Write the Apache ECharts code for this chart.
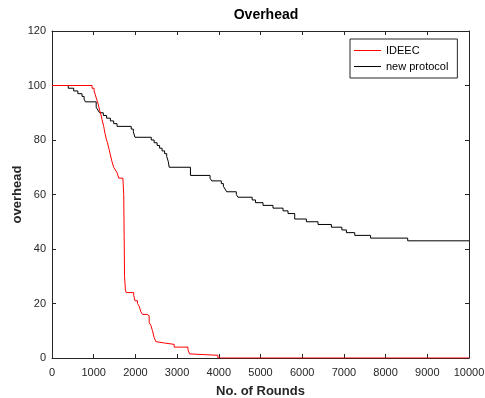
<!DOCTYPE html>
<html>
<head>
	<meta charset="UTF-8">
	<title>Overhead</title>
	<style>
		html, body { margin: 0; padding: 0; background: #fff; }
		#container { width: 485px; height: 398px; }
	</style>
</head>
<body>
	<div id="container"></div>
	<script src="https://cdn.jsdelivr.net/npm/echarts@6/dist/echarts.min.js"></script>
	<script>
		// IDEEC
		var ideecRounds = [0, 960, 1010, 1040, 1070, 1090, 1110, 1140, 1170, 1200, 1240, 1270, 1300, 1330, 1370, 1400, 1440, 1480, 1520, 1560, 1600, 1700, 1720, 1730, 1740, 1760, 1780, 1960, 1990, 2050, 2090, 2130, 2170, 2280, 2330, 2370, 2410, 2450, 2490, 2520, 2700, 2930, 3260, 3300, 3340, 3980, 10000];
		var ideecValues = [100, 99, 98, 96.5, 95, 94, 93, 91, 89.5, 87.5, 85, 82.5, 80.5, 79, 76.5, 74.5, 72, 70, 69, 68, 66, 65.5, 60, 45, 30, 25, 24, 23, 21, 20, 19, 17, 16, 15.5, 13, 12, 10, 7.5, 6, 5.5, 5, 4, 3, 1.5, 1, 0, 0];

		// new protocol
		var newRounds = [0, 390, 520, 620, 720, 770, 800, 1060, 1100, 1140, 1230, 1310, 1400, 1480, 1560, 1900, 1950, 1990, 2380, 2450, 2520, 2580, 2640, 2700, 2750, 2790, 2810, 3320, 3790, 3830, 4060, 4110, 4150, 4190, 4420, 4460, 4800, 4880, 5060, 5300, 5540, 5660, 5820, 6100, 6380, 6700, 6950, 7060, 7260, 7640, 8530, 10000];
		var newValues = [100, 99, 98, 97, 96, 95, 94, 92, 91, 90, 89, 88, 87, 86, 85, 84, 83, 81, 80, 79, 78, 77, 76, 75, 74, 72, 70, 67, 66, 65, 64, 63, 62, 61, 60, 59, 58, 57, 56, 55, 54, 53, 51, 50, 49, 48, 47, 46, 45, 44, 43, 43];

		function pairs(xs, ys) {
			var out = [];
			for (var i = 0; i < xs.length; i++) out.push([xs[i], ys[i]]);
			return out;
		}

		var axisColor = '#262626';
		var font = 'Liberation Sans, Arial, Helvetica, sans-serif';

		var myChart = echarts.init(document.getElementById('container'));

		// MATLAB style box: all four sides, ticks pointing in
		var boxAxis = {
			axisLine: { show: true, onZero: false, lineStyle: { color: axisColor, width: 1 } },
			axisTick: { show: true, inside: true, length: 4, lineStyle: { color: axisColor } },
			splitLine: { show: false }
		};

		var option = {
			animation: false,
			backgroundColor: '#fff',
			textStyle: { fontFamily: font },
			title: {
				text: 'Overhead',
				left: 261,
				top: 3,
				textAlign: 'center',
				textStyle: { fontSize: 14, fontWeight: 'bold', color: '#000', fontFamily: font }
			},
			legend: {
				orient: 'vertical',
				left: 350,
				top: 39,
				padding: [6, 9, 6, 4],
				itemGap: 5,
				itemWidth: 27,
				itemHeight: 1,
				icon: 'rect',
				borderColor: axisColor,
				borderWidth: 1,
				backgroundColor: '#fff',
				textStyle: { fontSize: 11, color: '#000', fontFamily: font },
				data: [
					{ name: 'IDEEC', itemStyle: { color: '#ff0000' } },
					{ name: 'new protocol', itemStyle: { color: '#000000' } }
				]
			},
			grid: { left: 52, top: 31, right: 16, bottom: 40, containLabel: false, outerBoundsMode: 'none' },
			xAxis: [
				Object.assign({
					type: 'value',
					min: 0,
					max: 10000,
					interval: 1000,
					name: 'No. of Rounds',
					nameLocation: 'middle',
					nameGap: 27,
					nameMoveOverlap: false,
					nameTextStyle: { fontSize: 13, fontWeight: 'bold', color: axisColor, fontFamily: font },
					axisLabel: { fontSize: 11, color: axisColor, margin: 9, fontFamily: font,
						formatter: function (v) { return String(v); } }
				}, boxAxis),
				Object.assign({
					type: 'value',
					position: 'top',
					min: 0,
					max: 10000,
					interval: 1000,
					axisLabel: { show: false }
				}, boxAxis)
			],
			yAxis: [
				Object.assign({
					type: 'value',
					min: 0,
					max: 120,
					interval: 20,
					name: 'overhead',
					nameLocation: 'middle',
					nameGap: 28,
					nameMoveOverlap: false,
					nameTextStyle: { fontSize: 13, fontWeight: 'bold', color: axisColor, fontFamily: font },
					axisLabel: { fontSize: 11, color: axisColor, margin: 6, fontFamily: font }
				}, boxAxis),
				Object.assign({
					type: 'value',
					position: 'right',
					min: 0,
					max: 120,
					interval: 20,
					axisLabel: { show: false }
				}, boxAxis)
			],
			series: [
				{
					name: 'IDEEC',
					type: 'line',
					step: 'end',
					showSymbol: false,
					symbol: 'none',
					color: '#ff0000',
					lineStyle: { color: '#ff0000', width: 1 },
					data: pairs(ideecRounds, ideecValues),
					z: 3
				},
				{
					name: 'new protocol',
					type: 'line',
					step: 'end',
					showSymbol: false,
					symbol: 'none',
					color: '#000000',
					lineStyle: { color: '#000000', width: 1 },
					data: pairs(newRounds, newValues),
					z: 2
				}
			]
		};

		myChart.setOption(option, true);
	</script>
</body>
</html>
